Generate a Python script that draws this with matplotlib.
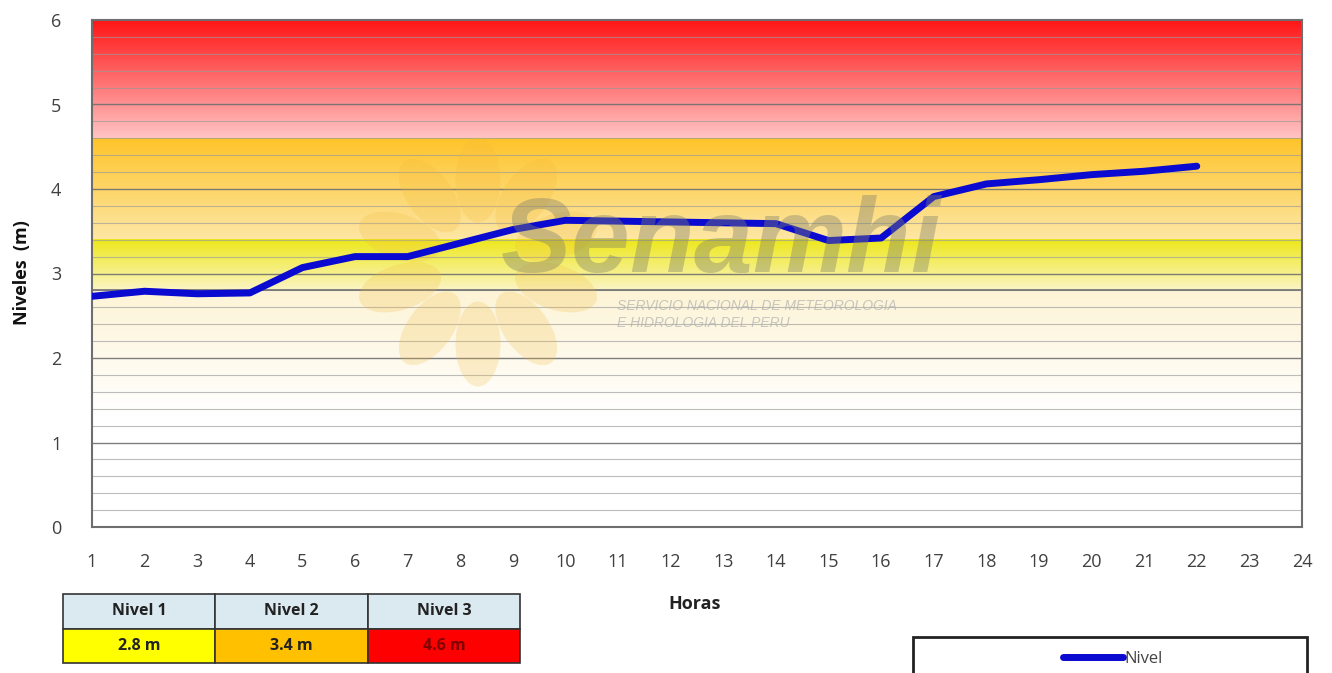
import numpy as np
import matplotlib
matplotlib.use('Agg')
import matplotlib.pyplot as plt
from matplotlib.colors import to_rgb
from matplotlib.patches import Ellipse, Rectangle

# Data
horas = [1, 2, 3, 4, 5, 6, 7, 8, 9, 10, 11, 12, 13, 14, 15, 16, 17, 18, 19, 20, 21, 22]
nivel = [2.73, 2.79, 2.76, 2.77, 3.07, 3.20, 3.20, 3.36, 3.52, 3.63, 3.62, 3.61,
         3.60, 3.59, 3.39, 3.42, 3.91, 4.06, 4.11, 4.17, 4.21, 4.27]
umbral_nombres = ['Nivel 1', 'Nivel 2', 'Nivel 3']
umbral_valores = [2.8, 3.4, 4.6]
x_ticks = list(range(1, 25))
y_ticks = list(range(0, 7))

plt.rcParams['font.family'] = ['Open Sans', 'DejaVu Sans']
# watermark word drawn through mathtext so its box hugs the glyphs
plt.rcParams['mathtext.fontset'] = 'custom'
plt.rcParams['mathtext.bf'] = 'Liberation Sans:bold:italic'

W, H = 1332, 673
fig = plt.figure(figsize=(W / 100, H / 100), dpi=100)
ax = fig.add_axes([92 / W, 1 - 527 / H, (1302 - 92) / W, (527 - 20) / H])


def band(y0, y1, c_top, c_bot, n=128):
    t = np.linspace(0, 1, n)[:, None, None]
    top = np.array(to_rgb(c_top))[None, None, :]
    bot = np.array(to_rgb(c_bot))[None, None, :]
    img = top * (1 - t) + bot * t
    ax.imshow(img, extent=(x_ticks[0], x_ticks[-1], y0, y1), origin='upper',
              aspect='auto', interpolation='bilinear', zorder=0)


n1, n2, n3 = umbral_valores
band(n3, y_ticks[-1], '#ff1414', '#ffc4c4')
band(n2, n3, '#ffc42a', '#fde7a6')
band(n1, n2, '#ede81a', '#fbf4c4')
band(1.3, n1, '#fdf4d6', '#ffffff')

# grid lines every 0.2 m
for yv in np.arange(0.2, 6.0, 0.2):
    major = abs(yv - round(yv)) < 1e-6
    ax.axhline(yv, color='#707070' if major else '#9a9a9a',
               lw=1.0 if major else 0.8, alpha=0.9 if major else 0.65, zorder=1)
ax.axhline(n1, color='#707070', lw=1.2, zorder=1)

# watermark
tr = fig.dpi_scale_trans
cx, cy = 4.78, (H - 262) / 100
for k in range(10):
    ang = np.deg2rad(90 + k * 36)
    ex = cx + 0.82 * np.cos(ang)
    ey = cy + 0.82 * np.sin(ang)
    ax.add_patch(Ellipse((ex, ey), 0.45, 0.85, angle=np.rad2deg(ang) - 90,
                         transform=tr, facecolor='#f3b93a', edgecolor='none',
                         alpha=0.22, zorder=2, clip_on=False))
fig.text(722 / W, 1 - 297 / H, r'$\mathbf{Senamhi}$', fontsize=76,
         color='#80806a', alpha=0.4, ha='center', va='bottom', zorder=3)
fig.text(617 / W, 1 - 306 / H, 'SERVICIO NACIONAL DE METEOROLOGIA', fontsize=10,
         style='italic', color='#b0b0b0', alpha=0.7, ha='left', va='center',
         family=['Liberation Sans'])
fig.text(617 / W, 1 - 323 / H, 'E HIDROLOGIA DEL PERU', fontsize=10,
         style='italic', color='#b0b0b0', alpha=0.7, ha='left', va='center',
         family=['Liberation Sans'])

ax.plot(horas, nivel, color='#0a0ad0', lw=5, solid_capstyle='round',
        solid_joinstyle='round', zorder=5, label='Nivel')

ax.set_xlim(x_ticks[0], x_ticks[-1])
ax.set_ylim(y_ticks[0], y_ticks[-1])
ax.set_xticks(x_ticks)
ax.set_yticks(y_ticks)
ax.tick_params(length=0, labelsize=13, labelcolor='#404040')
ax.tick_params(axis='x', pad=19)
ax.tick_params(axis='y', pad=22)
for s in ax.spines.values():
    s.set_color('#6e6e6e')
    s.set_linewidth(1.5)

fig.text(22 / W, 1 - 273 / H, 'Niveles  (m)', rotation=90, fontsize=13,
         fontweight='bold', ha='center', va='center', color='#111111')
fig.text(695 / W, 1 - 604 / H, 'Horas', fontsize=13, fontweight='bold',
         ha='center', va='center', color='#222222')

# threshold table
tax = fig.add_axes([63 / W, 1 - 663 / H, (520 - 63) / W, (663 - 594) / H])
tax.axis('off')
cell_text = [umbral_nombres, [f'{v} m' for v in umbral_valores]]
cell_colors = [['#dbe9f1'] * 3, ['#ffff00', '#ffc000', '#ff0000']]
tbl = tax.table(cellText=cell_text, cellColours=cell_colors, bbox=[0, 0, 1, 1],
                cellLoc='center')
tbl.auto_set_font_size(False)
for (r, c), cell in tbl.get_celld().items():
    cell.set_edgecolor('#333333')
    cell.set_linewidth(1.2)
    cell.get_text().set_fontsize(11.5)
    cell.get_text().set_fontweight('bold')
    cell.get_text().set_color('#800000' if (r == 1 and c == 2) else '#222222')

# legend box (cut at the bottom edge)
fig.patches.append(Rectangle((913 / W, -0.05), (1307 - 913) / W, (673 - 637) / H + 0.05,
                             transform=fig.transFigure, facecolor='white',
                             edgecolor='#222222', lw=2))
fig.legend(loc='center', bbox_to_anchor=(1113 / W, 1 - 659 / H), frameon=False,
           fontsize=12, handlelength=3.6, handletextpad=0.1, labelcolor='#444444')

fig.savefig('out.png', dpi=100)
